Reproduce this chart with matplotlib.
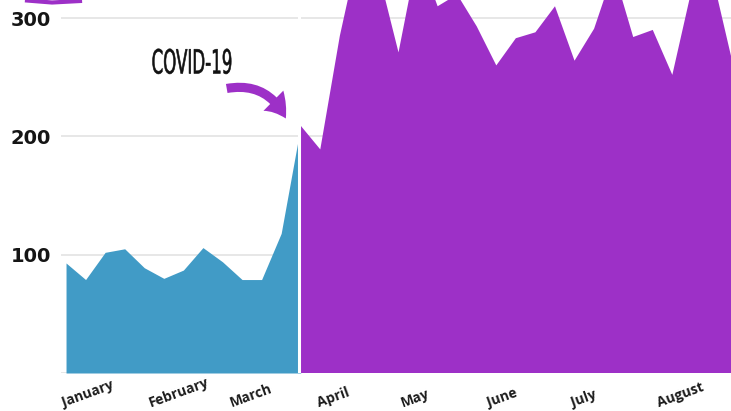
import matplotlib
matplotlib.use('Agg')
import matplotlib.pyplot as plt
import pandas as pd
from matplotlib.patches import FancyArrowPatch
from matplotlib.lines import Line2D
from matplotlib.transforms import ScaledTranslation, Affine2D
from matplotlib.patheffects import AbstractPathEffect

# weekly numbers, before and after the covid start
weeks = pd.date_range('2020-01-01', periods=35, freq='7D')
before_covid = [93, 79, 102, 105, 89, 80, 87, 106, 94, 79, 79, 118, 209]
after_covid = [209, 189, 285, 360, 337, 271, 355, 310, 320, 293, 260, 283,
               288, 310, 264, 291, 340, 284, 290, 252, 325, 339, 268]

months = ['January', 'February', 'March', 'April', 'May', 'June', 'July', 'August']
month_starts = pd.date_range('2020-01-01', periods=8, freq='MS')
y_ticks = [0, 100, 200, 300]
y_labels = ['', '100', '200', '300']

blue = '#419bc6'
purple = '#9d30c7'


class Squeeze(AbstractPathEffect):
    # narrow the text sideways around a given x (pixels), no condensed font here
    def __init__(self, sx, cx, stroke=0.0):
        super().__init__()
        self.sx = sx
        self.cx = cx
        self.stroke = stroke

    def draw_path(self, renderer, gc, tpath, affine, rgbFace=None):
        squeeze = Affine2D().translate(-self.cx, 0).scale(self.sx, 1).translate(self.cx, 0)
        gc.set_linewidth(self.stroke)
        renderer.draw_path(gc, tpath, affine + squeeze, rgbFace)


fig = plt.figure(figsize=(7.31, 4.11), dpi=100)
ax = fig.add_axes([61/731, 38/411, 670/731, 373/411])

ax.fill_between(weeks[:13], before_covid, color=blue, lw=0, zorder=2)
ax.fill_between(weeks[12:], after_covid, color=purple, lw=0, zorder=2)
# white split between the two periods
ax.axvline(weeks[12] - pd.Timedelta(days=0.5), color='white', lw=2.2, zorder=3)

ax.set_xlim(weeks[0] - pd.Timedelta(days=1.8), weeks[-1])
ax.set_ylim(0, 315.3)

ax.set_yticks(y_ticks)
ax.set_yticklabels(y_labels, fontsize=14, fontweight='bold', color='#151515')
ax.grid(axis='y', color='#e3e3e3', lw=1.2)
ax.set_axisbelow(True)
ax.tick_params(axis='y', length=0, pad=7)

ax.set_xticks(month_starts)
ax.set_xticklabels(months, rotation=20, rotation_mode='anchor', ha='left', va='top',
                   fontsize=10, fontweight='bold', family='Open Sans', color='#1c1c1c')
ax.tick_params(axis='x', length=0, pad=17)
for lbl in ax.get_xticklabels():
    lbl.set_transform(lbl.get_transform() + ScaledTranslation(-4/72, 0, fig.dpi_scale_trans))

for s in ax.spines.values():
    s.set_visible(False)

fig.text(192/731, 1 - 64/411, 'COVID-19', ha='center', va='center', fontsize=24,
         color='#111111', path_effects=[Squeeze(0.5, 192, stroke=0.4)])

arrow = FancyArrowPatch((224/731, 1 - 89/411), (287/731, 1 - 121/411),
                        transform=fig.transFigure, connectionstyle='arc3,rad=-0.4',
                        arrowstyle='simple,head_length=1.3,head_width=1.7,tail_width=0.55',
                        mutation_scale=12, color=purple, lw=0)
fig.add_artist(arrow)

# bit of an arrow coming in from above
fig.add_artist(Line2D([27/731, 52/731, 80/731], [1 - 0.5/411, 1 - 2.5/411, 1 - 1/411],
                      color=purple, lw=3, transform=fig.transFigure))

fig.savefig('out.png', dpi=100)
